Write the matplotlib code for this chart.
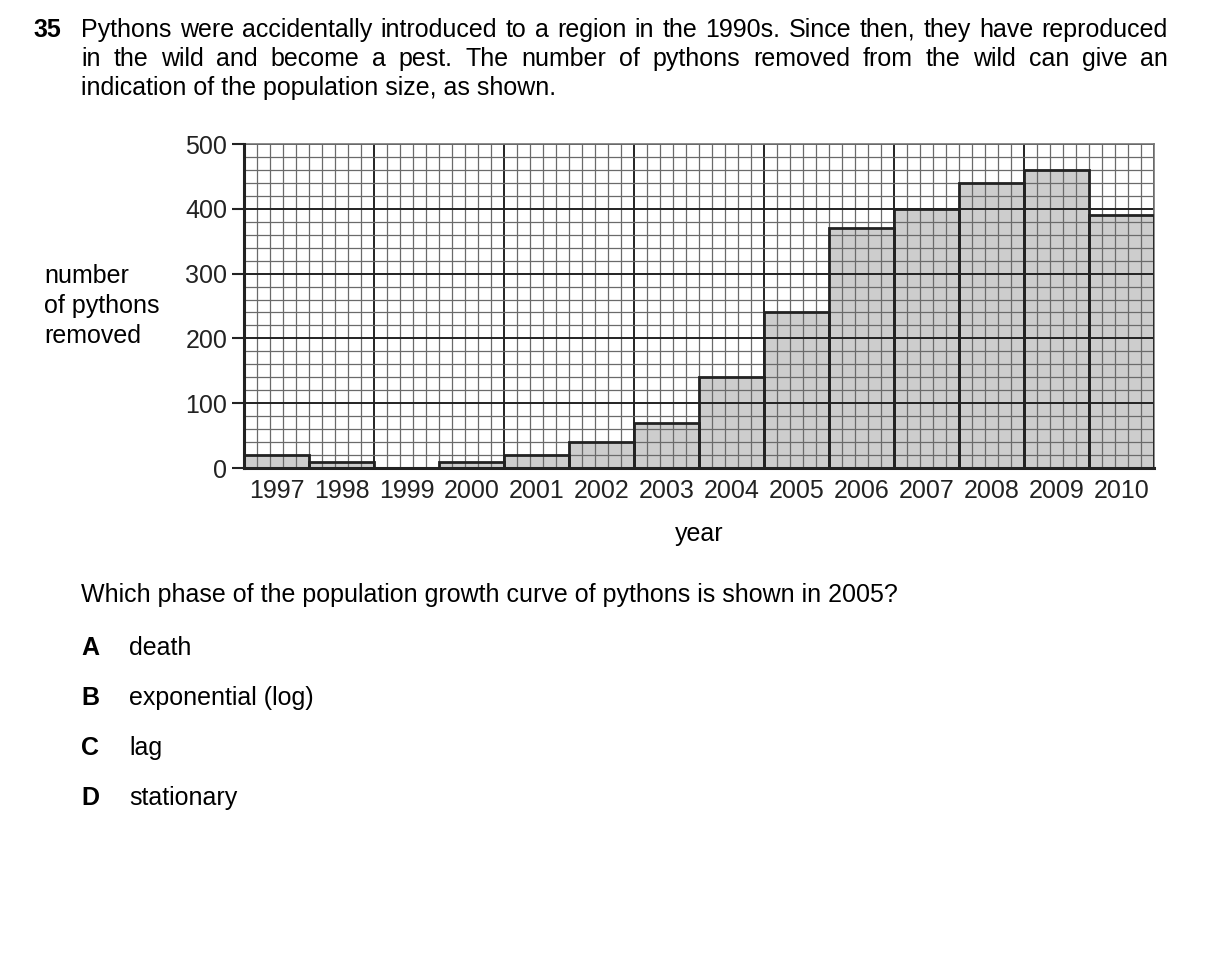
import matplotlib.pyplot as plt
import numpy as np

plt.rcParams['font.family'] = ['Liberation Sans', 'DejaVu Sans']

# data
years = ['1997', '1998', '1999', '2000', '2001', '2002', '2003',
         '2004', '2005', '2006', '2007', '2008', '2009', '2010']
removed = [20, 10, 0, 10, 20, 40, 70, 140, 240, 370, 400, 440, 460, 390]

intro_lines = [
    'Pythons were accidentally introduced to a region in the 1990s. Since then, they have reproduced',
    'in the wild and become a pest. The number of pythons removed from the wild can give an',
    'indication of the population size, as shown.',
]
question = 'Which phase of the population growth curve of pythons is shown in 2005?'
options = [('A', 'death'), ('B', 'exponential (log)'), ('C', 'lag'), ('D', 'stationary')]

W, H = 1209, 956
fig = plt.figure(figsize=(W / 100, H / 100), dpi=100)

def fx(px):
    return px / W

def fy(py):
    return 1 - py / H

FS = 18

# axes placed to match the reference grid
ax = fig.add_axes([fx(244), fy(468), fx(1154) - fx(244), fy(144) - fy(468)])
n = len(years)
xpos = np.arange(n) + 0.5

# bar fill under the grid, outlines above it
ax.bar(xpos, removed, width=1.0, color='#cdcdcd', edgecolor='none', zorder=1)

for x in np.arange(0, n + 0.001, 0.2):
    major = abs(x / 2 - round(x / 2)) < 1e-6
    ax.axvline(x, color='#222222' if major else '#6a6a6a',
               lw=1.4 if major else 0.9, zorder=2)
for y in range(0, 501, 20):
    major = y % 100 == 0
    ax.axhline(y, color='#222222' if major else '#6a6a6a',
               lw=1.4 if major else 0.9, zorder=2)

ax.bar(xpos, removed, width=1.0, fill=False, edgecolor='#222222', lw=2.0, zorder=3)

ax.set_xlim(0, n)
ax.set_ylim(0, 500)
ax.set_xticks(xpos)
ax.set_xticklabels(years, fontsize=FS, color='#222222')
ax.tick_params(axis='x', length=0, pad=8)
ax.set_yticks(range(0, 501, 100))
ax.tick_params(axis='y', labelsize=FS, labelcolor='#222222', length=9,
               width=1.5, color='#222222', pad=3)
for s in ['left', 'bottom']:
    ax.spines[s].set_linewidth(2.2)
    ax.spines[s].set_color('#222222')
    ax.spines[s].set_zorder(4)
for s in ['top', 'right']:
    ax.spines[s].set_linewidth(1.2)
    ax.spines[s].set_color('#777777')

# axis titles
fig.text(fx(699), fy(534), 'year', fontsize=FS, ha='center', va='center')
for label, base in zip(['number', 'of pythons', 'removed'], [283, 313, 343]):
    fig.text(fx(44), fy(base), label, fontsize=FS, ha='left', va='baseline')

# question number and justified paragraph
fig.text(fx(33), fy(37), '35', fontsize=FS, fontweight='bold', ha='left', va='baseline')
renderer = fig.canvas.get_renderer()
left, right = 81, 1168
for i, (line, base) in enumerate(zip(intro_lines, [37, 66, 95])):
    words = line.split(' ')
    if i == len(intro_lines) - 1:
        fig.text(fx(left), fy(base), line, fontsize=FS, ha='left', va='baseline')
        continue
    texts = [fig.text(0, fy(base), w, fontsize=FS, ha='left', va='baseline') for w in words]
    widths = [t.get_window_extent(renderer).width for t in texts]
    gap = (right - left - sum(widths)) / (len(words) - 1)
    x = left
    for t, w in zip(texts, widths):
        t.set_x(fx(x))
        x += w + gap

fig.text(fx(81), fy(602), question, fontsize=FS, ha='left', va='baseline')
for (letter, word), base in zip(options, [655, 705, 755, 805]):
    fig.text(fx(81), fy(base), letter, fontsize=FS, fontweight='bold', ha='left', va='baseline')
    fig.text(fx(129), fy(base), word, fontsize=FS, ha='left', va='baseline')

fig.savefig('out.png', dpi=100)
